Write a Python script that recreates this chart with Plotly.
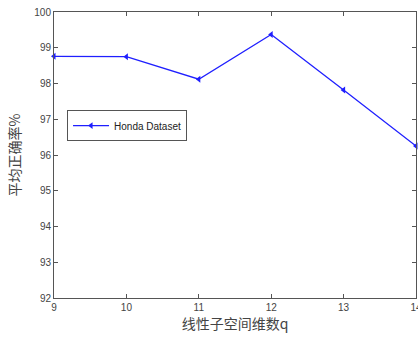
import plotly.graph_objects as go

q_values = [9, 10, 11, 12, 13, 14]
accuracy = [98.76, 98.75, 98.12, 99.37, 97.82, 96.25]
x_ticks = [9, 10, 11, 12, 13, 14]
y_ticks = [92, 93, 94, 95, 96, 97, 98, 99, 100]
series_name = "Honda Dataset"

fig = go.Figure()
fig.add_trace(go.Scatter(
    x=q_values, y=accuracy, mode="lines+markers", name=series_name,
    line=dict(color="#1f1fff", width=1.3),
    marker=dict(symbol="triangle-left", size=6, color="#1f1fff"),
    cliponaxis=False,
))

axis_common = dict(
    showline=True, linecolor="#555", linewidth=1, mirror="ticks",
    ticks="inside", ticklen=4, tickcolor="#555", showgrid=False, zeroline=False,
    automargin=False, ticklabeloverflow="allow",
    tickfont=dict(family="Liberation Sans, Arial", size=10, color="#444"),
)
fig.update_xaxes(range=[9, 14], tickvals=x_ticks, **axis_common,
                 title=dict(text="线性子空间维数q", standoff=7,
                            font=dict(family="Noto Sans CJK SC", size=14, color="#444")))
fig.update_yaxes(range=[92, 100], tickvals=y_ticks, **axis_common,
                 title=dict(text="平均正确率%", standoff=10,
                            font=dict(family="Noto Sans CJK SC", size=14, color="#444")))

fig.update_layout(
    width=418, height=343, margin=dict(l=54, r=2, t=12, b=45),
    plot_bgcolor="white", paper_bgcolor="white",
    showlegend=True,
    legend=dict(x=0.036, y=0.657, xanchor="left", yanchor="top",
                bgcolor="white", bordercolor="#555", borderwidth=1,
                font=dict(family="Liberation Sans, Arial", size=10, color="#222"),
                itemwidth=36),
)
fig.write_html(
    "out.html",
    config={"displayModeBar": False},
    post_script="document.body.style.margin='0';document.body.style.overflow='hidden';",
)
